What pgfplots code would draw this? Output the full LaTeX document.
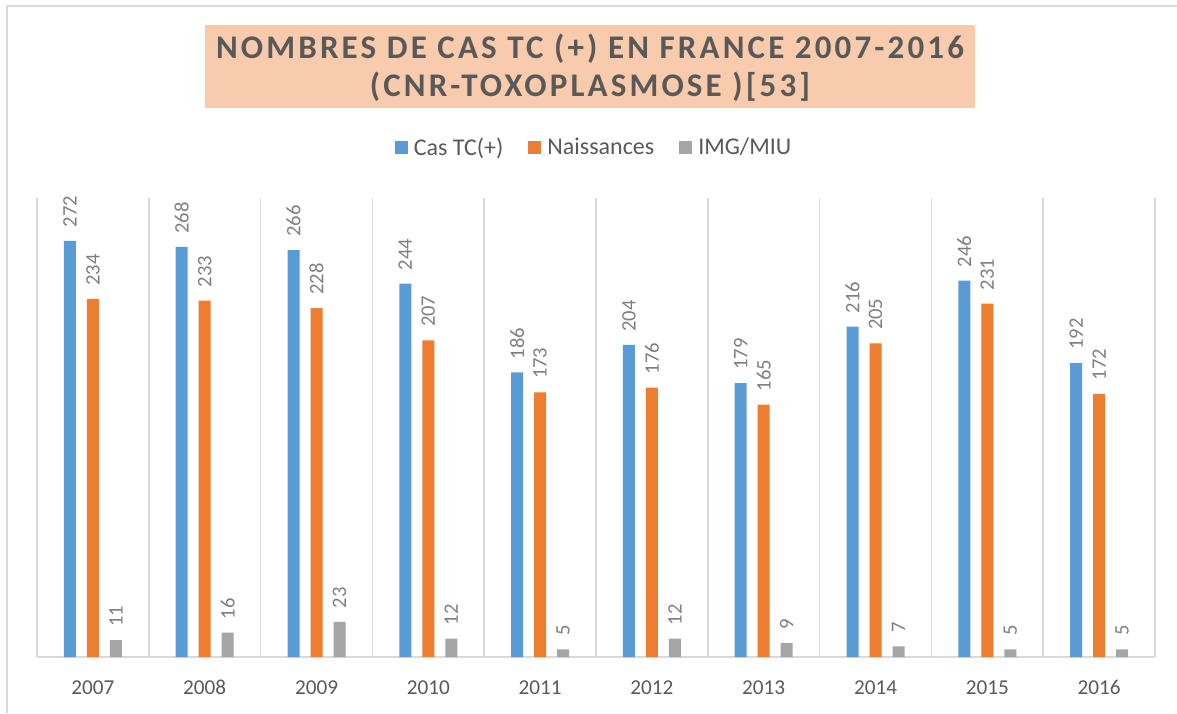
\documentclass[border=0pt]{standalone}
\usepackage{fontspec}
\setmainfont{Carlito}
\newfontfamily\titlefont[LetterSpace=9.5]{Carlito}
\usepackage{pgfplots}
\pgfplotsset{compat=1.18}
\definecolor{cblue}{HTML}{5B9BD5}
\definecolor{corange}{HTML}{ED7D31}
\definecolor{cgray}{HTML}{A5A5A5}
\definecolor{gridc}{HTML}{D9D9D9}
\definecolor{txt}{HTML}{595959}
\definecolor{lbl}{HTML}{7F7F7F}
\definecolor{peach}{HTML}{F8CBAD}
\begin{document}
\begin{tikzpicture}
\useasboundingbox (0,0) rectangle (588.5pt,356.5pt);
% chart border (top and left visible)
\draw[gridc, line width=1pt] (3.5pt,0) -- (3.5pt,353.5pt) -- (588.5pt,353.5pt);
% title box
\fill[peach] (102.5pt,302.5pt) rectangle (487.5pt,344pt);
\node[txt, font=\titlefont\bfseries\fontsize{16.5}{19}\selectfont, align=center] at (295pt,322.5pt)
  {NOMBRES DE CAS TC (+) EN FRANCE 2007-2016\\(CNR-TOXOPLASMOSE )[53]};
\begin{axis}[
    at={(18.5pt,28pt)}, anchor=south west,
    scale only axis,
    width=559pt, height=229.5pt,
    xmin=-0.5, xmax=9.5,
    ymin=0, ymax=300,
    ybar=5.5pt,
    bar width=6pt,
    clip=false,
    /pgf/number format/assume math mode=true,
    axis x line*=bottom,
    axis y line=none,
    x axis line style={draw=gridc, line width=0.8pt, -},
    xtick=data,
    xticklabels={2007,2008,2009,2010,2011,2012,2013,2014,2015,2016},
    minor xtick={-0.5,0.5,...,9.5},
    minor x grid style={draw=gridc, line width=0.8pt},
    xminorgrids=true,
    major tick length=0pt,
    minor tick length=0pt,
    xticklabel style={font=\fontsize{10.6}{12}\selectfont, text=txt, text depth=0pt, text height=7pt, yshift=-8pt},
    nodes near coords,
    every node near coord/.append style={font=\fontsize{10.3}{12}\selectfont, text=lbl, rotate=90, anchor=west, inner xsep=6.5pt},
    legend columns=3,
    legend style={draw=none, at={(0.5,1.109)}, anchor=center, font=\fontsize{12}{14}\selectfont, text=txt,
      /tikz/every even column/.append style={column sep=9.5pt},
      nodes={inner xsep=3pt}},
    legend image code/.code={\fill[#1] (0pt,-3pt) rectangle (6.5pt,3.5pt);},
]
\addplot[fill=cblue, draw=none] coordinates {(0,272) (1,268) (2,266) (3,244) (4,186) (5,204) (6,179) (7,216) (8,246) (9,192)};
\addlegendentry{Cas TC(+)}
\addplot[fill=corange, draw=none] coordinates {(0,234) (1,233) (2,228) (3,207) (4,173) (5,176) (6,165) (7,205) (8,231) (9,172)};
\addlegendentry{Naissances}
\addplot[fill=cgray, draw=none] coordinates {(0,11) (1,16) (2,23) (3,12) (4,5) (5,12) (6,9) (7,7) (8,5) (9,5)};
\addlegendentry{IMG/MIU}
\end{axis}
\end{tikzpicture}
\end{document}
